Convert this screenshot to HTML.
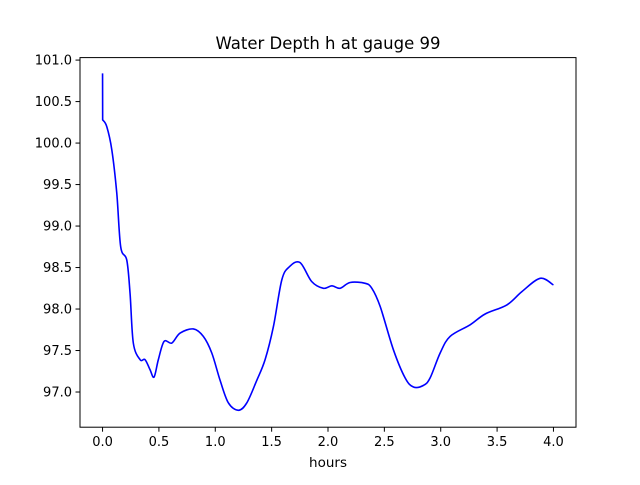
<!DOCTYPE html>
<html><head><meta charset="utf-8"><style>
body{margin:0;background:#fff;}
svg text{font-family:"DejaVu Sans","Liberation Sans",sans-serif;fill:#000;}
</style></head><body>
<svg id="chart" width="640" height="480" viewBox="0 0 640 480" xmlns="http://www.w3.org/2000/svg">
<rect width="640" height="480" fill="#fff"/>
<text x="328" y="49" font-size="16.5" text-anchor="middle">Water Depth h at gauge 99</text>
<g id="plot"></g>
<rect x="80" y="57.6" width="496" height="369.6" fill="none" stroke="#000" stroke-width="1"/>
<g id="xt"></g>
<g id="yt"></g>
<text x="328" y="467" font-size="13.5" text-anchor="middle">hours</text>
</svg>
<script>
const hours=[0,0.001,0.037,0.082,0.126,0.161,0.215,0.244,0.273,0.333,0.377,0.421,0.457,0.495,0.546,0.614,0.688,0.806,0.894,0.969,1.043,1.116,1.205,1.280,1.368,1.442,1.516,1.590,1.658,1.752,1.856,1.959,2.034,2.107,2.196,2.329,2.389,2.463,2.580,2.684,2.758,2.847,2.906,2.995,3.083,3.261,3.394,3.587,3.720,3.882,4.0];
const depth=[100.84,100.28,100.20,99.92,99.40,98.75,98.59,98.19,97.59,97.39,97.39,97.27,97.18,97.39,97.61,97.59,97.71,97.76,97.67,97.47,97.14,96.87,96.78,96.87,97.14,97.39,97.79,98.35,98.51,98.56,98.33,98.25,98.28,98.25,98.32,98.31,98.25,98.03,97.51,97.17,97.06,97.08,97.17,97.47,97.67,97.81,97.94,98.05,98.21,98.37,98.29];
const xTicks=[0,0.5,1,1.5,2,2.5,3,3.5,4];
const yTicks=[97,97.5,98,98.5,99,99.5,100,100.5,101];
const X0=80,X1=576,Y0=427.2,Y1=57.6;
const xmin=-0.2,xmax=4.2,ymin=96.576,ymax=101.03;
const sx=v=>X0+(v-xmin)/(xmax-xmin)*(X1-X0);
const sy=v=>Y0-(v-ymin)/(ymax-ymin)*(Y0-Y1);
const NS='http://www.w3.org/2000/svg';
const pts=hours.map((h,i)=>[sx(h),sy(depth[i])]);
let d='M'+pts[0][0].toFixed(2)+','+pts[0][1].toFixed(2)+' L'+pts[1][0].toFixed(2)+','+pts[1][1].toFixed(2);
for(let i=1;i<pts.length-1;i++){
  const p0=pts[Math.max(1,i-1)],p1=pts[i],p2=pts[i+1],p3=pts[Math.min(pts.length-1,i+2)];
  const c1=[p1[0]+(p2[0]-p0[0])/6,p1[1]+(p2[1]-p0[1])/6];
  const c2=[p2[0]-(p3[0]-p1[0])/6,p2[1]-(p3[1]-p1[1])/6];
  d+=' C'+c1.map(v=>v.toFixed(2)).join(',')+' '+c2.map(v=>v.toFixed(2)).join(',')+' '+p2.map(v=>v.toFixed(2)).join(',');
}
const path=document.createElementNS(NS,'path');
path.setAttribute('d',d);path.setAttribute('fill','none');path.setAttribute('stroke','#0000ff');path.setAttribute('stroke-width','1.6');path.setAttribute('stroke-linejoin','round');


document.getElementById('plot').appendChild(path);
const xt=document.getElementById('xt');
xTicks.forEach(t=>{
  const x=sx(t);
  const l=document.createElementNS(NS,'line');
  l.setAttribute('x1',x);l.setAttribute('x2',x);l.setAttribute('y1',Y0);l.setAttribute('y2',Y0+4.5);l.setAttribute('stroke','#000');
  
  
  xt.appendChild(l);
  const tx=document.createElementNS(NS,'text');
  tx.setAttribute('x',x);tx.setAttribute('y',Y0+19);tx.setAttribute('font-size','13');tx.setAttribute('text-anchor','middle');
  tx.textContent=t.toFixed(1);
  
  
  xt.appendChild(tx);
});
const yt=document.getElementById('yt');
yTicks.forEach(t=>{
  const y=sy(t);
  const l=document.createElementNS(NS,'line');
  l.setAttribute('x1',X0-4.5);l.setAttribute('x2',X0);l.setAttribute('y1',y);l.setAttribute('y2',y);l.setAttribute('stroke','#000');
  
  
  yt.appendChild(l);
  const tx=document.createElementNS(NS,'text');
  tx.setAttribute('x',X0-8);tx.setAttribute('y',y+4.5);tx.setAttribute('font-size','13');tx.setAttribute('text-anchor','end');
  tx.textContent=t.toFixed(1);
  
  
  yt.appendChild(tx);
});
</script>
</body></html>
